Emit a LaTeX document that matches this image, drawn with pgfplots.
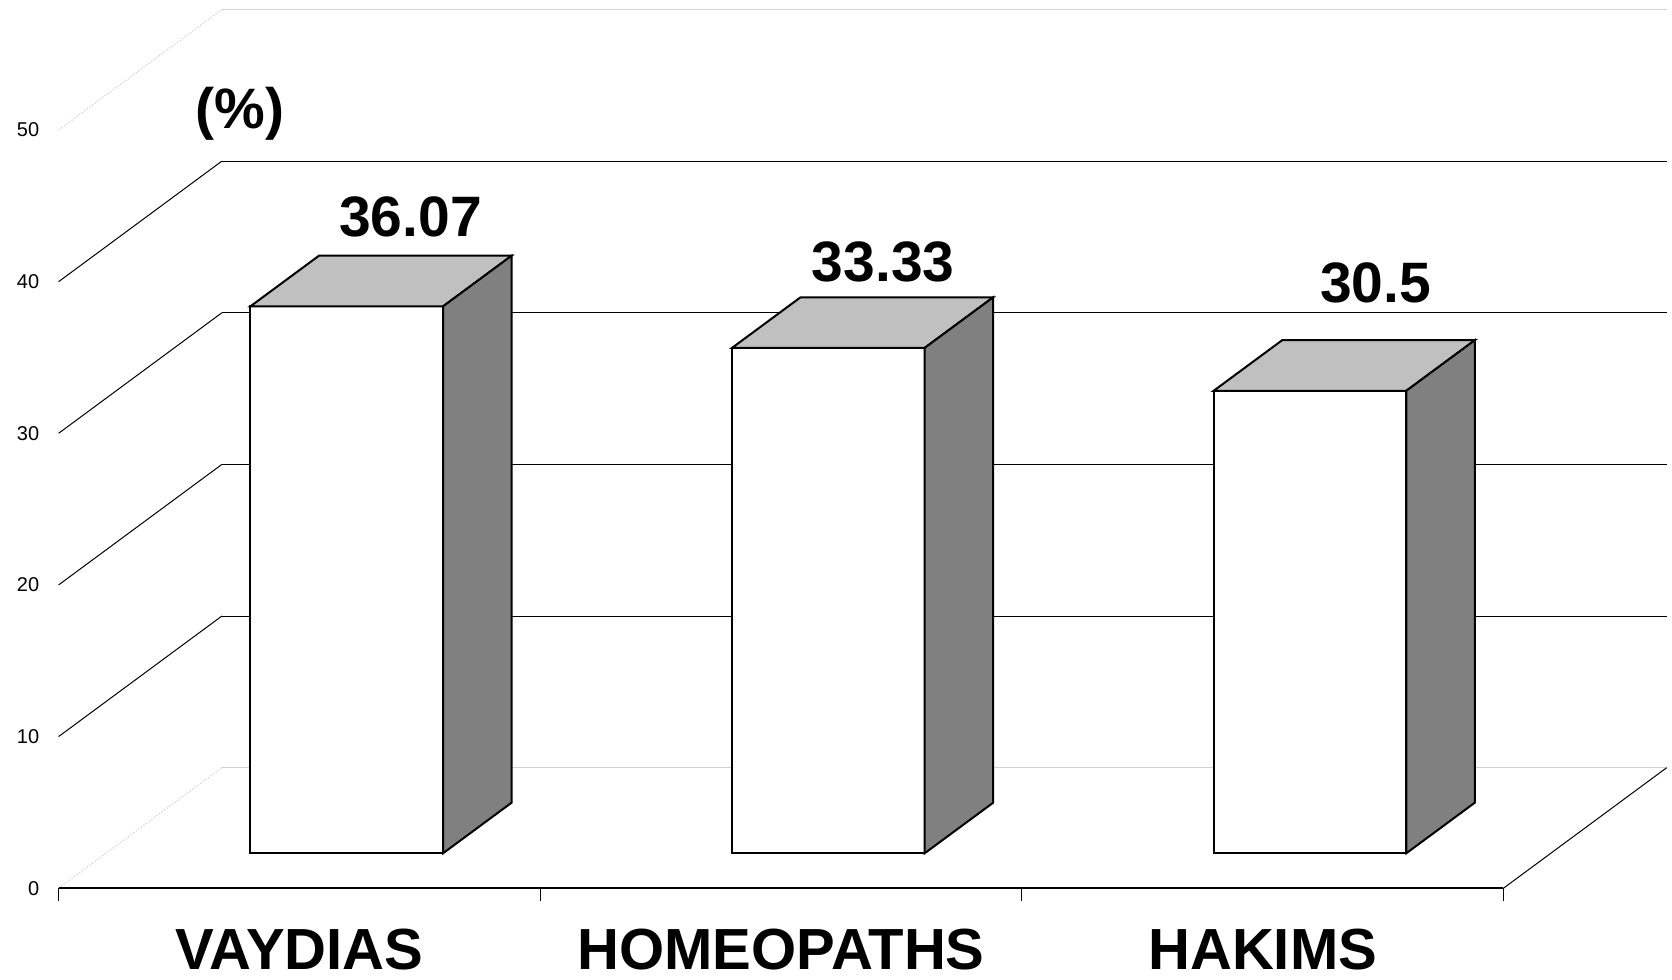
\documentclass[border=0pt]{standalone}
\usepackage{pgfplots}
\pgfplotsset{compat=1.18}
\usepackage{fontspec}
\setmainfont{Liberation Sans}
\definecolor{topgray}{HTML}{C0C0C0}
\definecolor{sidegray}{HTML}{808080}
\definecolor{floorgray}{HTML}{D0D0D0}
\begin{document}
\begin{tikzpicture}
\begin{axis}[
  x={(240.8pt,0pt)}, y={(81.6pt,60.25pt)}, z={(0pt,7.5815pt)},
  xmin=0, xmax=3, ymin=0, ymax=1, zmin=0, zmax=50,
  hide axis, clip=false,
]
% back wall gridlines
\addplot3[floorgray, line width=0.6pt] coordinates {(0,1,0) (3,1,0)};
\addplot3[black, line width=0.5pt] coordinates {(0,1,10) (3,1,10)};
\addplot3[black, line width=0.5pt] coordinates {(0,1,20) (3,1,20)};
\addplot3[black, line width=0.5pt] coordinates {(0,1,30) (3,1,30)};
\addplot3[black, line width=0.5pt] coordinates {(0,1,40) (3,1,40)};
\addplot3[floorgray, line width=0.6pt] coordinates {(0,1,50) (3,1,50)};
% side wall diagonals
\addplot3[floorgray, densely dotted, line width=0.6pt] coordinates {(0,0,0) (0,1,0)};
\addplot3[black, line width=0.5pt] coordinates {(0,0,10) (0,1,10)};
\addplot3[black, line width=0.5pt] coordinates {(0,0,20) (0,1,20)};
\addplot3[black, line width=0.5pt] coordinates {(0,0,30) (0,1,30)};
\addplot3[black, line width=0.5pt] coordinates {(0,0,40) (0,1,40)};
\addplot3[floorgray, densely dotted, line width=0.6pt] coordinates {(0,0,50) (0,1,50)};
% floor
\addplot3[black, line width=0.5pt] coordinates {(3,0,0) (3,1,0)};
\addplot3[black, line width=1pt] coordinates {(0,0,0) (3,0,0)};
\addplot3[black, line width=0.6pt] coordinates {(0,0,0) (0,0,-0.86)};
\addplot3[black, line width=0.6pt] coordinates {(1,0,0) (1,0,-0.86)};
\addplot3[black, line width=0.6pt] coordinates {(2,0,0) (2,0,-0.86)};
\addplot3[black, line width=0.6pt] coordinates {(3,0,0) (3,0,-0.86)};
% bar 1: VAYDIAS 36.07
\addplot3[draw=black, fill=white, line width=1pt] coordinates {(0.3,0.29,0) (0.7,0.29,0) (0.7,0.29,36.07) (0.3,0.29,36.07)} -- cycle;
\addplot3[draw=black, fill=topgray, line width=1pt] coordinates {(0.3,0.29,36.07) (0.7,0.29,36.07) (0.7,0.71,36.07) (0.3,0.71,36.07)} -- cycle;
\addplot3[draw=black, fill=sidegray, line width=1pt] coordinates {(0.7,0.29,0) (0.7,0.71,0) (0.7,0.71,36.07) (0.7,0.29,36.07)} -- cycle;
% bar 2: HOMEOPATHS 33.33
\addplot3[draw=black, fill=white, line width=1pt] coordinates {(1.3,0.29,0) (1.7,0.29,0) (1.7,0.29,33.33) (1.3,0.29,33.33)} -- cycle;
\addplot3[draw=black, fill=topgray, line width=1pt] coordinates {(1.3,0.29,33.33) (1.7,0.29,33.33) (1.7,0.71,33.33) (1.3,0.71,33.33)} -- cycle;
\addplot3[draw=black, fill=sidegray, line width=1pt] coordinates {(1.7,0.29,0) (1.7,0.71,0) (1.7,0.71,33.33) (1.7,0.29,33.33)} -- cycle;
% bar 3: HAKIMS 30.5
\addplot3[draw=black, fill=white, line width=1pt] coordinates {(2.3,0.29,0) (2.7,0.29,0) (2.7,0.29,30.5) (2.3,0.29,30.5)} -- cycle;
\addplot3[draw=black, fill=topgray, line width=1pt] coordinates {(2.3,0.29,30.5) (2.7,0.29,30.5) (2.7,0.71,30.5) (2.3,0.71,30.5)} -- cycle;
\addplot3[draw=black, fill=sidegray, line width=1pt] coordinates {(2.7,0.29,0) (2.7,0.71,0) (2.7,0.71,30.5) (2.7,0.29,30.5)} -- cycle;
% tick labels
\node[anchor=east, inner sep=0pt, font=\fontsize{10}{12}\selectfont] at ([xshift=-9.5pt]axis cs:0,0,0) {0};
\node[anchor=east, inner sep=0pt, font=\fontsize{10}{12}\selectfont] at ([xshift=-9.5pt]axis cs:0,0,10) {10};
\node[anchor=east, inner sep=0pt, font=\fontsize{10}{12}\selectfont] at ([xshift=-9.5pt]axis cs:0,0,20) {20};
\node[anchor=east, inner sep=0pt, font=\fontsize{10}{12}\selectfont] at ([xshift=-9.5pt]axis cs:0,0,30) {30};
\node[anchor=east, inner sep=0pt, font=\fontsize{10}{12}\selectfont] at ([xshift=-9.5pt]axis cs:0,0,40) {40};
\node[anchor=east, inner sep=0pt, font=\fontsize{10}{12}\selectfont] at ([xshift=-9.5pt]axis cs:0,0,50) {50};
% category labels
\node[inner sep=0pt, font=\fontsize{29}{32}\selectfont\bfseries] at (axis cs:0.5,0,-4.05) {VAYDIAS};
\node[inner sep=0pt, font=\fontsize{29}{32}\selectfont\bfseries] at (axis cs:1.5,0,-4.05) {HOMEOPATHS};
\node[inner sep=0pt, font=\fontsize{29}{32}\selectfont\bfseries] at (axis cs:2.5,0,-4.05) {HAKIMS};
% value labels
\node[inner sep=0pt, font=\fontsize{28.5}{32}\selectfont\bfseries] at (axis cs:0.7307,0,44.30) {36.07};
\node[inner sep=0pt, font=\fontsize{28.5}{32}\selectfont\bfseries] at (axis cs:1.712,0,41.30) {33.33};
\node[inner sep=0pt, font=\fontsize{28.5}{32}\selectfont\bfseries] at (axis cs:2.7345,0,39.94) {30.5};
\node[inner sep=0pt, font=\fontsize{28.5}{32}\selectfont\bfseries] at (axis cs:0.3767,0,51.1) {(\%)};
% bounding box corners
\coordinate (bbA) at (axis cs:-0.1217,0,-5.988);
\coordinate (bbB) at (axis cs:3.350,0,58.577);
\end{axis}
\pgfresetboundingbox
\useasboundingbox (bbA) rectangle (bbB);
\end{tikzpicture}
\end{document}
